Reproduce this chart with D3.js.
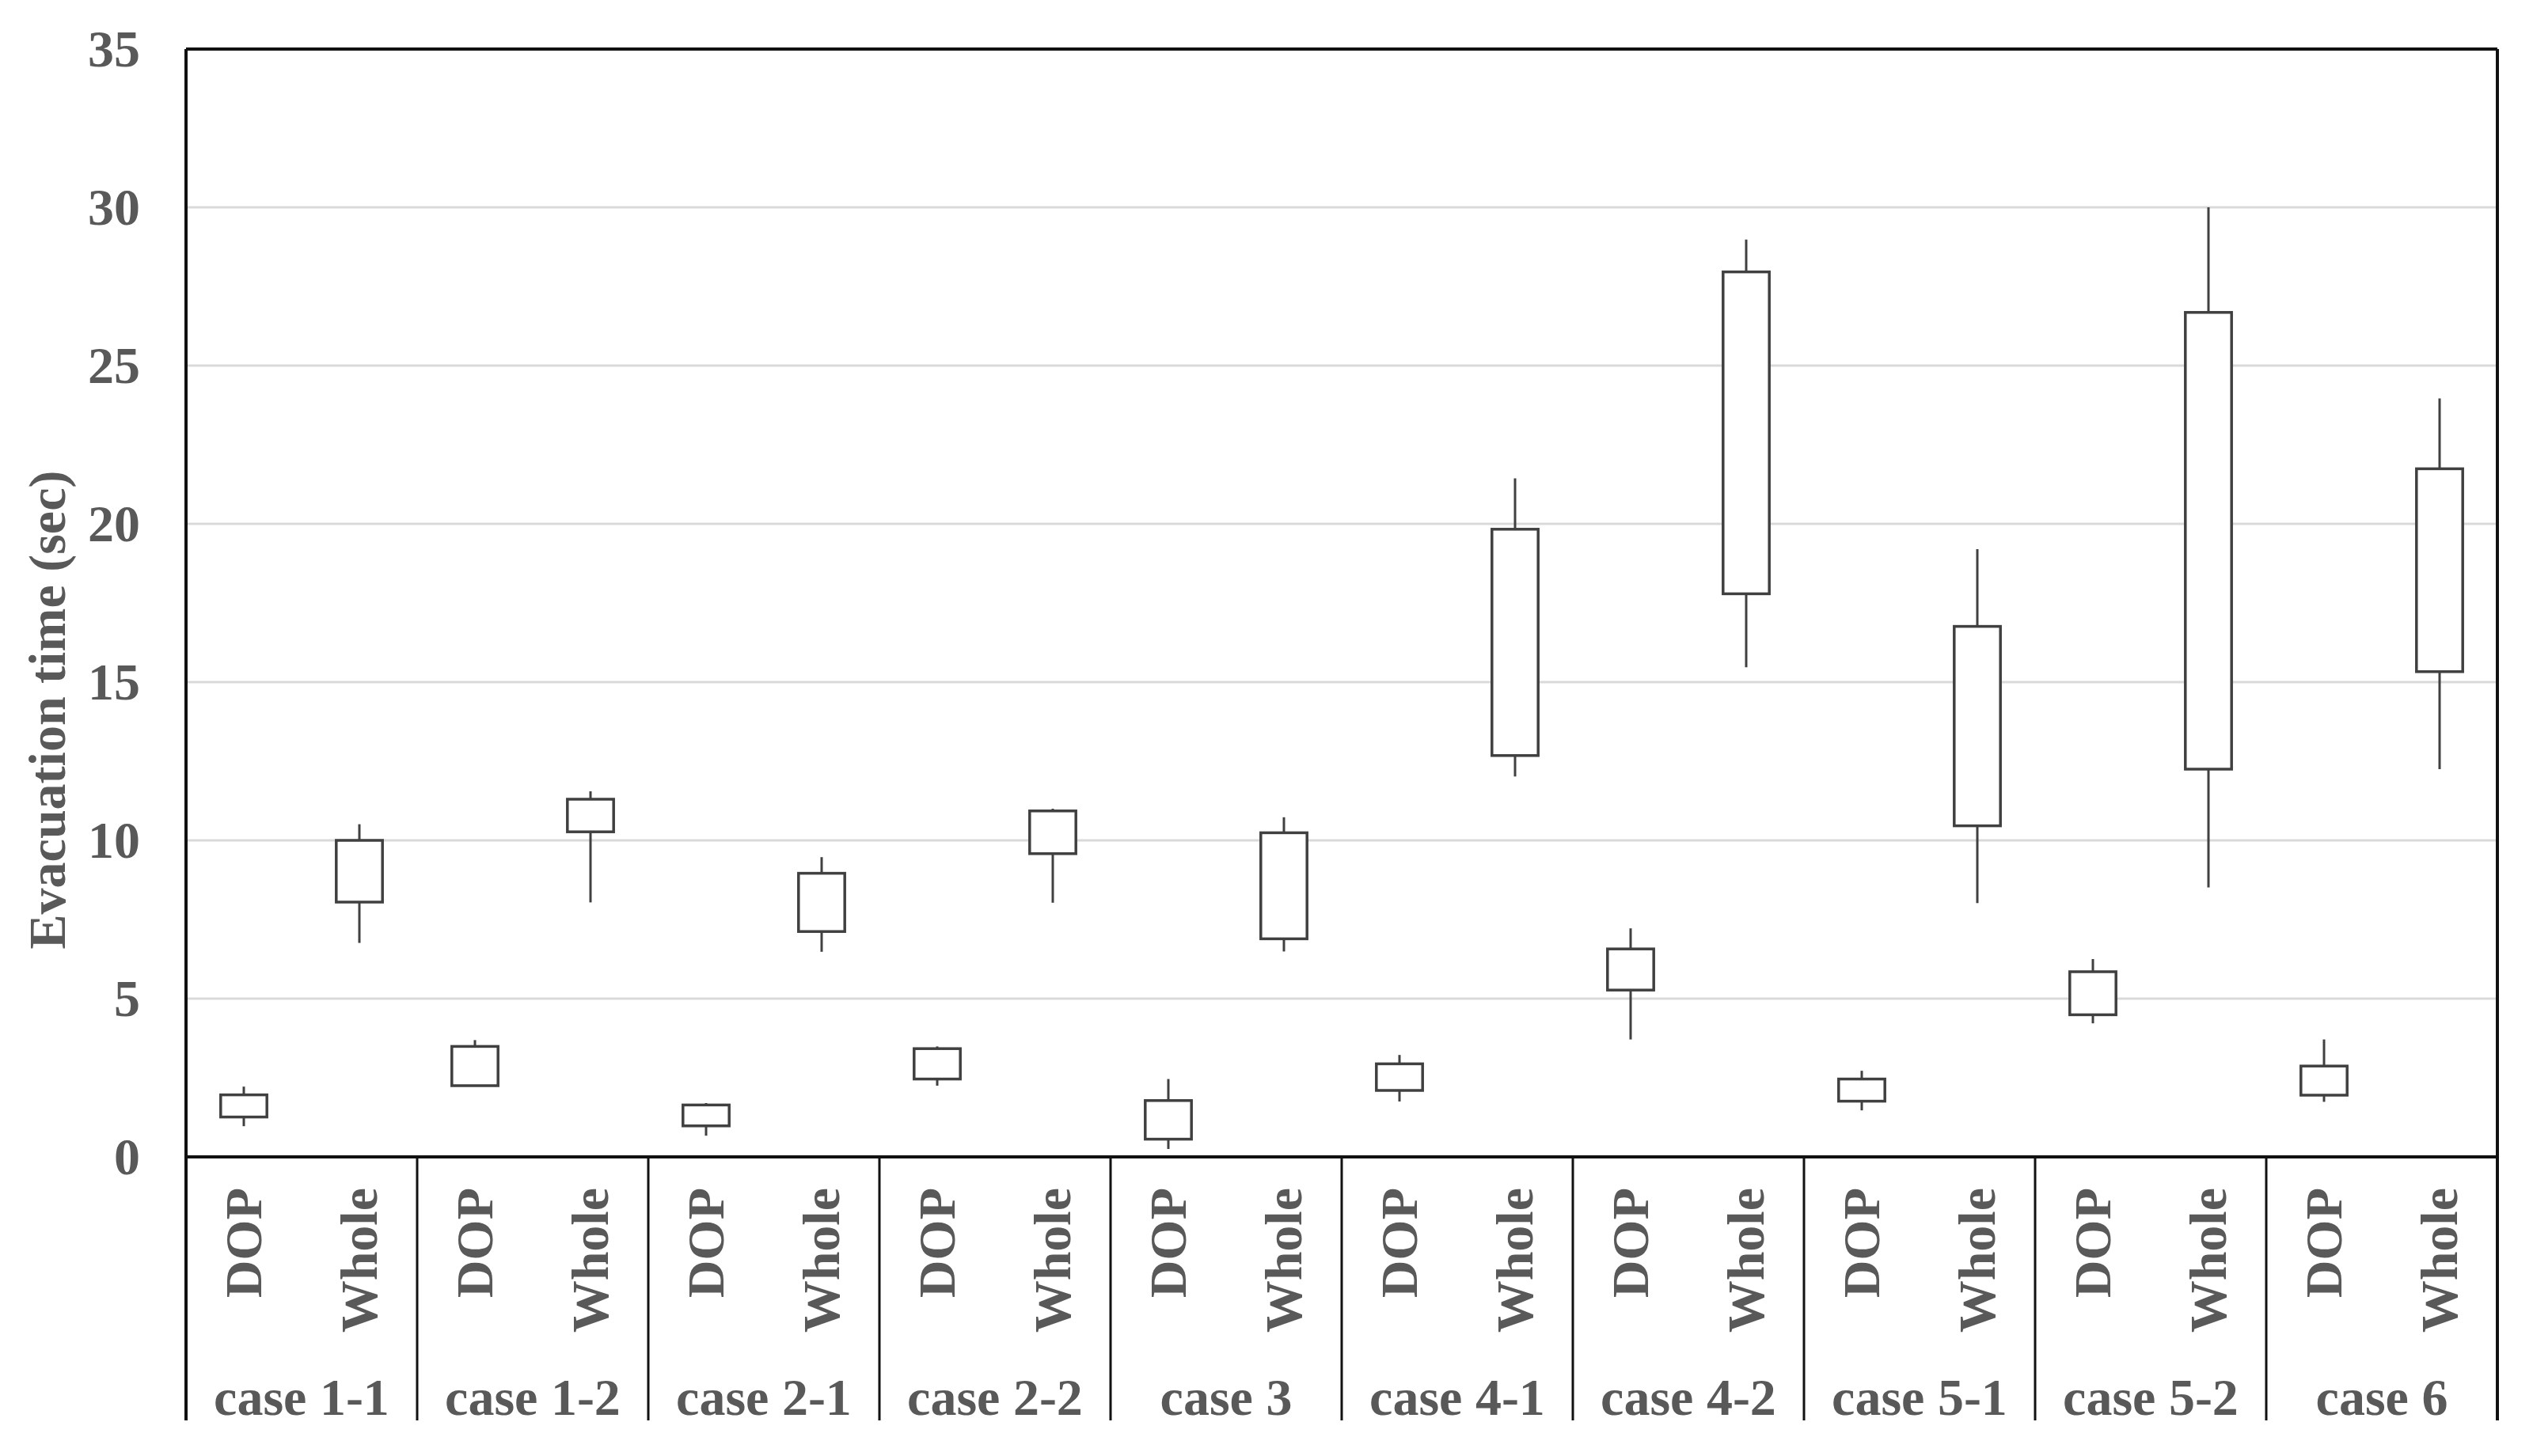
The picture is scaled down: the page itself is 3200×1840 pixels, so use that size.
<!DOCTYPE html>
<html><head>
<meta charset="utf-8">
<script src="https://cdnjs.cloudflare.com/ajax/libs/d3/7.8.5/d3.min.js"></script>
<style>
  body { margin: 0; background: #fff; }
  .lbl { font-family: "Liberation Serif", "Times New Roman", serif; font-weight: bold; font-size: 66px; fill: #595959; }
</style>
</head>
<body>
<script>
var cases = ["case 1-1", "case 1-2", "case 2-1", "case 2-2", "case 3", "case 4-1", "case 4-2", "case 5-1", "case 5-2", "case 6"];
var groups = ["DOP", "Whole"];
var yTicks = [0, 5, 10, 15, 20, 25, 30, 35];

// min, lower box edge, upper box edge, max
var dopMin = [0.97, 2.24, 0.67, 2.25, 0.25, 1.75, 3.71, 1.47, 4.22, 1.74];
var dopLow = [1.26, 2.25, 0.98, 2.46, 0.56, 2.10, 5.27, 1.76, 4.49, 1.95];
var dopHigh = [1.96, 3.49, 1.64, 3.42, 1.78, 2.94, 6.57, 2.46, 5.85, 2.87];
var dopMax = [2.22, 3.69, 1.70, 3.49, 2.46, 3.22, 7.22, 2.72, 6.25, 3.71];

var wholeMin = [6.76, 8.04, 6.48, 8.03, 6.49, 12.02, 15.47, 8.02, 8.51, 12.25];
var wholeLow = [8.05, 10.27, 7.12, 9.58, 6.89, 12.68, 17.79, 10.46, 12.25, 15.33];
var wholeHigh = [10.0, 11.3, 8.96, 10.93, 10.24, 19.83, 27.96, 16.76, 26.68, 21.74];
var wholeMax = [10.51, 11.55, 9.47, 11.0, 10.73, 21.44, 28.98, 19.2, 30.0, 23.96];

var W = 3200, H = 1840;
var plotL = 235, plotR = 3155, plotT = 62, plotB = 1462, catB = 1795;

var svg = d3.select("body").append("svg").attr("width", W).attr("height", H);

var x = d3.scaleBand().domain(cases).range([plotL, plotR]);
var xi = d3.scaleBand().domain(groups).range([0, x.bandwidth()]);
var y = d3.scaleLinear().domain([0, 35]).range([plotB, plotT]);

var rows = [];
cases.forEach(function (c, i) {
  rows.push({c: c, g: "DOP", min: dopMin[i], lo: dopLow[i], hi: dopHigh[i], max: dopMax[i]});
  rows.push({c: c, g: "Whole", min: wholeMin[i], lo: wholeLow[i], hi: wholeHigh[i], max: wholeMax[i]});
});

// gridlines
svg.append("g").selectAll("line").data(yTicks.filter(function (t) { return t > 0 && t < 35; }))
  .enter().append("line")
  .attr("x1", plotL).attr("x2", plotR)
  .attr("y1", function (d) { return y(d); }).attr("y2", function (d) { return y(d); })
  .attr("stroke", "#d9d9d9").attr("stroke-width", 3);

// y axis labels
var yAxis = svg.append("g").attr("transform", "translate(" + plotL + ",0)")
  .call(d3.axisLeft(y).tickValues(yTicks).tickSize(0).tickPadding(58));
yAxis.select(".domain").remove();
yAxis.selectAll("text").attr("class", "lbl").attr("font-size", null).attr("font-family", null).attr("fill", null);

svg.append("text").attr("class", "lbl")
  .attr("transform", "translate(82,897) rotate(-90)")
  .attr("text-anchor", "middle")
  .text("Evacuation time (sec)");

// boxes
var bw = xi.bandwidth() * 0.4;
var g = svg.append("g").selectAll("g").data(rows).enter().append("g")
  .attr("transform", function (d) { return "translate(" + (x(d.c) + xi(d.g) + xi.bandwidth() / 2) + ",0)"; });
g.append("line")
  .attr("y1", function (d) { return y(d.max); }).attr("y2", function (d) { return y(d.min); })
  .attr("stroke", "#404040").attr("stroke-width", 3);
g.append("rect")
  .attr("x", -bw / 2).attr("width", bw)
  .attr("y", function (d) { return y(d.hi); })
  .attr("height", function (d) { return y(d.lo) - y(d.hi); })
  .attr("fill", "#fff").attr("stroke", "#404040").attr("stroke-width", 3.5);

// frame
svg.append("line").attr("x1", plotL).attr("x2", plotR).attr("y1", plotT).attr("y2", plotT).attr("stroke", "#111").attr("stroke-width", 4);
svg.append("line").attr("x1", plotL).attr("x2", plotR).attr("y1", plotB).attr("y2", plotB).attr("stroke", "#111").attr("stroke-width", 4);
svg.append("line").attr("x1", plotL).attr("x2", plotL).attr("y1", plotT).attr("y2", catB).attr("stroke", "#111").attr("stroke-width", 4);
svg.append("line").attr("x1", plotR).attr("x2", plotR).attr("y1", plotT).attr("y2", catB).attr("stroke", "#111").attr("stroke-width", 4);

// category separators
svg.append("g").selectAll("line").data(cases.slice(1)).enter().append("line")
  .attr("x1", function (d) { return x(d); }).attr("x2", function (d) { return x(d); })
  .attr("y1", plotB).attr("y2", catB)
  .attr("stroke", "#111").attr("stroke-width", 3);

// inner labels
svg.append("g").selectAll("text").data(rows).enter().append("text")
  .attr("class", "lbl")
  .attr("text-anchor", "end")
  .attr("transform", function (d) { return "translate(" + (x(d.c) + xi(d.g) + xi.bandwidth() / 2 + 22) + ",1501) rotate(-90)"; })
  .text(function (d) { return d.g; });

// case labels
svg.append("g").selectAll("text").data(cases).enter().append("text")
  .attr("class", "lbl")
  .attr("text-anchor", "middle")
  .attr("x", function (d) { return x(d) + x.bandwidth() / 2; })
  .attr("y", 1788)
  .text(function (d) { return d; });
</script>
</body></html>
